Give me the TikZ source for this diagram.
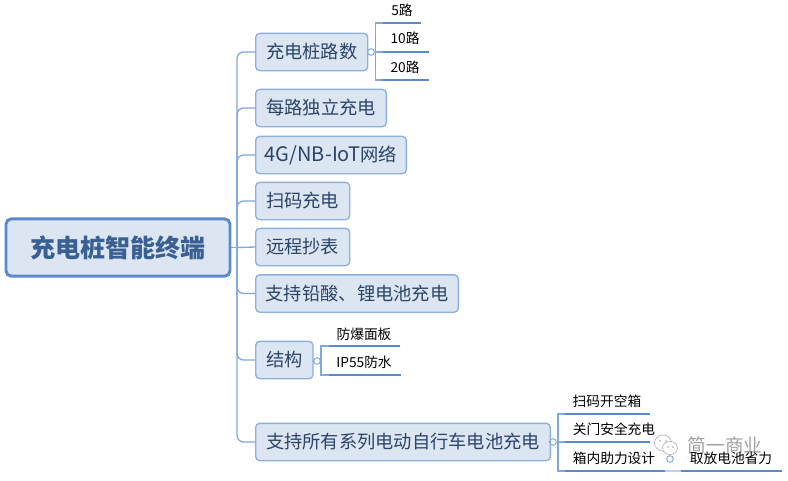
\documentclass[tikz,border=0pt]{standalone}
\usepackage{fontspec}
\setmainfont{Noto Sans CJK SC}
\definecolor{boxfill}{HTML}{DCE6F2}
\definecolor{boxline}{HTML}{8DB0DF}
\definecolor{rootline}{HTML}{5B8ACB}
\definecolor{linkline}{HTML}{7FA8DF}
\definecolor{leafline}{HTML}{5B8ACB}
\definecolor{boxtext}{HTML}{2C4468}
\definecolor{roottext}{HTML}{3A5F92}
\tikzset{
  topic/.style={draw=boxline, fill=boxfill, line width=1pt, rounded corners=3pt,
    text=boxtext, font=\fontsize{13.7}{16}\selectfont, inner sep=0pt,
    minimum height=28pt, anchor=west},
  roottopic/.style={draw=rootline, fill=boxfill, line width=2.2pt, rounded corners=4pt,
    text=roottext, font=\fontsize{18.8}{21}\bfseries\selectfont, inner sep=0pt},
  leaf/.style={text=black, font=\fontsize{10.3}{12}\selectfont, inner sep=0pt},
  link/.style={draw=linkline, line width=1pt, rounded corners=5pt},
  bracket/.style={draw=linkline, line width=.8pt},
  under/.style={draw=leafline, line width=1.3pt},
  fold/.style={draw=linkline, fill=white, line width=.7pt, circle, inner sep=0pt, minimum size=5pt}
}
\begin{document}
\begin{tikzpicture}[x=.75pt, y=-.75pt]
    \useasboundingbox (0,0) rectangle (788,480);

    % root
    \node[roottopic, minimum width=168pt, minimum height=43pt] (root) at (118,247.5) {充电桩智能终端};

    % topics
    \node[topic, minimum width=84pt] (lushu) at (255,52) {充电桩路数};
    \node[topic, minimum width=98pt] (duli) at (255,108) {每路独立充电};
    \node[topic, minimum width=113pt] (wangluo) at (255,155) {{\fontsize{15}{16}\selectfont 4G/NB-IoT}网络};
    \node[topic, minimum width=70.5pt] (saoma) at (255,201) {扫码充电};
    \node[topic, minimum width=70.5pt] (chaobiao) at (255,247) {远程抄表};
    \node[topic, minimum width=152pt] (qiansuan) at (255,293.5) {支持铅酸、锂电池充电};
    \node[topic, minimum width=43pt] (jiegou) at (255,360) {结构};
    \node[topic, minimum width=221pt] (xilie) at (255,442) {支持所有系列电动自行车电池充电};

    % trunk
    \coordinate (trunk) at (237,247.5);
    \draw[link] (root.east) -- (trunk);
    \foreach \t in {lushu,duli,wangluo,saoma,qiansuan,jiegou,xilie}
      \draw[link] (trunk) |- (\t.west);
    \draw[link] (trunk) -- (chaobiao.west);

    % fold marks
    \node[fold] (fold1) at (371,52) {};
    \node[fold] (fold2) at (317,361) {};
    \node[fold] (fold3) at (553,442) {};
    \draw[bracket] (lushu.east) -- (fold1);
    \draw[bracket] (jiegou.east |- fold2) -- (fold2);
    \draw[bracket] (xilie.east) -- (fold3);

    % leaves of lushu
    \node[leaf] (lu5) at (402,10) {5路};
    \node[leaf] (lu10) at (405,38) {10路};
    \node[leaf] (lu20) at (405,67) {20路};
    \coordinate (lu5a) at (383,23);
    \coordinate (lu10a) at (383,52);
    \coordinate (lu20a) at (383,80);
    \coordinate (lu5b) at (421,23);
    \coordinate (lu10b) at (429,52);
    \coordinate (lu20b) at (429,80);
    \coordinate (jlu) at (375.5,52);
    \draw[bracket] (fold1) -- (jlu);
    \foreach \l in {lu5,lu10,lu20} {
      \draw[bracket] (jlu) |- (\l a);
      \draw[under] (\l a) -- (\l b);
    }

    % leaves of jiegou
    \node[leaf] (mianban) at (364,334) {防爆面板};
    \node[leaf] (fangshui) at (364,362) {IP55防水};
    \coordinate (mianbana) at (329,346);
    \coordinate (fangshuia) at (329,375);
    \coordinate (mianbanb) at (400,346);
    \coordinate (fangshuib) at (401,375);
    \coordinate (jjie) at (321,361);
    \draw[bracket] (fold2) -- (jjie);
    \foreach \l in {mianban,fangshui} {
      \draw[bracket] (jjie) |- (\l a);
      \draw[under] (\l a) -- (\l b);
    }

    % leaves of xilie
    \node[leaf] (kaixiang) at (607,401) {扫码开空箱};
    \node[leaf] (guanmen) at (614,429) {关门安全充电};
    \node[leaf] (zhuli) at (614,458) {箱内助力设计};
    \coordinate (kaixianga) at (565,414);
    \coordinate (guanmena) at (565,442);
    \coordinate (zhulia) at (565,471);
    \coordinate (kaixiangb) at (650,414);
    \coordinate (guanmenb) at (650,442);
    \coordinate (zhulib) at (665,471);
    \coordinate (jxi) at (558,442);
    \draw[bracket] (fold3) -- (jxi);
    \foreach \l in {kaixiang,guanmen,zhuli} {
      \draw[bracket] (jxi) |- (\l a);
      \draw[under] (\l a) -- (\l b);
    }
    \node[fold] (fold4) at (670,459) {};
    \coordinate (shenglia) at (681,471);
    \coordinate (shenglib) at (782,471);
    \draw[under, draw=boxline!60] (zhulib) -- (shenglia);
    \draw[under] (shenglia) -- (shenglib);

    % watermark
    \begin{scope}[gray]
      \draw[fill=white, line width=.5pt, draw opacity=.6] (663,443) ellipse (8.5 and 8);
      \draw[fill=white, line width=.5pt, draw opacity=.6] (670,448) ellipse (7.5 and 6.5);
      \fill[opacity=.7] (660,441) circle (.9) (666,441) circle (.9) (668,447) circle (.8) (673,447) circle (.8);
      \node[text=gray, text opacity=.75, font=\fontsize{14}{16}\selectfont, inner sep=0pt] (shuiyin) at (725,445) {简一商业};
    \end{scope}
    \node[leaf] (shengli) at (731,458) {取放电池省力};
\end{tikzpicture}
\end{document}
